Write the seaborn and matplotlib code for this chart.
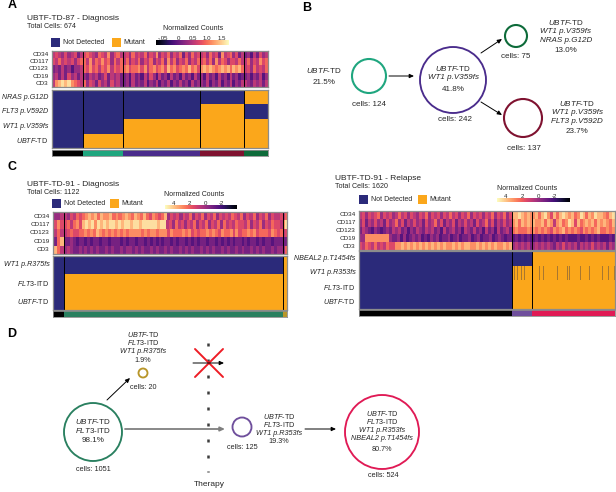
"""Single-cell clonal evolution figure: genotype heatmaps and clone diagrams."""

import matplotlib

matplotlib.use("Agg")
import matplotlib.pyplot as plt
import numpy as np
import pandas as pd
import seaborn as sns
from matplotlib.colors import ListedColormap
from matplotlib.patches import Circle, Rectangle

W, H = 616, 492

NAVY = "#2b2a7a"
ORANGE = "#fba71b"
STRIPE = "#a9772f"
TEXT = "#262626"
EDGE = "#8c8c8c"

UBTF = r"$\mathit{UBTF}$-TD"
FLT3 = r"$\mathit{FLT3}$-ITD"

markers = ["CD34", "CD117", "CD123", "CD19", "CD3"]

# panel A: clone sizes, genotype per clone, expression digits per clone (0 dark - 9 bright)
a_cells = [96, 124, 242, 137, 75]
a_genes = ["NRAS p.G12D", "FLT3 p.V592D", "WT1 p.V359fs", UBTF]
a_nras = [0, 0, 0, 0, 1]
a_flt3 = [0, 0, 0, 1, 0]
a_wt1 = [0, 0, 1, 1, 1]
a_ubtf = [0, 1, 1, 1, 1]
a_colors = ["#000000", "#1fa67f", "#4a2c8c", "#7f1230", "#0e6b3a"]
a_cd34 = ["4543534524", "5654365473564", "45364546354735463546253645", "453645274563524", "23142534"]
a_cd117 = ["5464545356", "6474657563646", "46354635463546374635463546", "564637465355464", "46354756"]
a_cd123 = ["2324231334", "6575646574656", "67566757467567586756768675", "787876787868786", "45364546"]
a_cd19 = ["3424253424", "3243423524342", "23142314253142314231423142", "314231423142312", "23132413"]
a_cd3 = ["4789897654", "6354253425342", "23142324132413241324231423", "324132413241324", "43243424"]
a_ticks = [-0.5, 0, 0.5, 1.0, 1.5]
a_ticklabels = ["-.05", "0", "0.5", "1.0", "1.5"]

# panel C, diagnosis
c_cells = [51, 1051, 20]
c_genes = ["WT1 p.R375fs", FLT3, UBTF]
c_wt1 = [0, 0, 1]
c_flt3 = [0, 1, 1]
c_ubtf = [0, 1, 1]
c_colors = ["#000000", "#2a8060", "#b8962a"]
c_cd34 = ["334", "435465678786877867678768768657656835453546354635463545465463546354635445", "46"]
c_cd117 = ["575", "5646758989798989989899899899999899453645354635463546364546554635463546554", "79"]
c_cd123 = ["464", "45655667676876767676767777676776777576667675656676765766757566767566657656", "45"]
c_cd19 = ["268", "22321221212212212221212212212121212212122121212212212121212212122121221222", "22"]
c_cd3 = ["864", "34322323232322323223233232322323223232232323223232322323223232232323223233", "36"]

# panel C, relapse
r_cells = [971, 125, 524]
r_genes = ["NBEAL2 p.T1454fs", "WT1 p.R353fs", FLT3, UBTF]
r_nbeal2 = [0, 0, 1]
r_wt1 = [0, 1, 1]
r_flt3 = [0, 1, 1]
r_ubtf = [0, 1, 1]
r_wt1_partial = [982, 997, 1022, 1043, 1138, 1166, 1250, 1314, 1331, 1398, 1457, 1535, 1578, 1612]
r_colors = ["#000000", "#6f4f9c", "#e01a55"]
r_cd34 = ["453545635453464535435463545354645354635453546354635", "8898787", "7868975868987867986879887689"]
r_cd117 = ["352435342534635243534253463524352435342534635243534", "7868787", "8778687478679858678786878768"]
r_cd123 = ["243213212324342313243243423142342314324231423142342", "6766676", "7676765767867676576767866767"]
r_cd19 = ["3377777777322313123231213231223123122312312231232122", "1212121", "1212121212121112112121211121"]
r_cd3 = ["546546454655778787878787878787787878877878787877878", "3434342", "3434343243534342434353434243"]

exp_ticks = [4, 2, 0, -2]

# clone diagrams: labels and cell counts
b_nodes = ["cells: 124", "cells: 242", "cells: 75", "cells: 137"]
d_nodes = ["cells: 1051", "cells: 20", "cells: 125", "cells: 524"]


def px_axes(fig, x0, y0, x1, y1):
    """Axes from pixel box, y measured from the top."""
    return fig.add_axes([x0 / W, 1 - y1 / H, (x1 - x0) / W, (y1 - y0) / H])


def expand(segments, cells):
    out = []
    for s, n in zip(segments, cells):
        idx = np.arange(n) * len(s) // n
        out.extend(int(s[i]) for i in idx)
    return out


def frame(ax, cuts):
    for s in ax.spines.values():
        s.set_visible(True)
        s.set_color(EDGE)
        s.set_linewidth(0.9)
    for c in cuts:
        ax.axvline(c, color="black", lw=0.7)


def panel(fig, boxes, cells, rows, genes, colors, vrange, cbar_box, ticks, ticklabels, flip, partial=None):
    x0, x1, ey0, ey1, gy0, gy1, by0, by1 = boxes
    cuts = np.cumsum(cells)[:-1]
    vmin, vmax = vrange

    # digits sit on the middle of the colour scale, the picture never reaches its ends
    frac = 0.18 + np.array([expand(r, cells) for r in rows], dtype=float) / 9 * 0.75
    expr = frac * (vmax - vmin) + vmin
    ax = px_axes(fig, x0, ey0, x1, ey1)
    cax = px_axes(fig, *cbar_box)
    sns.heatmap(
        pd.DataFrame(expr, index=markers),
        ax=ax,
        cmap="magma",
        vmin=vmin,
        vmax=vmax,
        xticklabels=False,
        yticklabels=markers,
        cbar_ax=cax,
        cbar_kws={"orientation": "horizontal"},
    )
    ax.tick_params(axis="y", length=1.5, width=0.4, pad=1, labelsize=4.6, labelcolor=TEXT, color=TEXT, rotation=0)
    frame(ax, cuts)

    cax.xaxis.set_ticks_position("top")
    cax.set_xticks(ticks)
    cax.set_xticklabels(ticklabels, fontsize=4.4, color=TEXT)
    cax.tick_params(axis="x", length=1.5, width=0.3, pad=-0.5, color="white", direction="in")
    cax.minorticks_off()
    if flip:
        cax.invert_xaxis()
    for s in cax.spines.values():
        s.set_visible(False)

    geno = np.array([np.repeat(g, cells) for g in genes.values()], dtype=int) * 2
    if partial is not None:
        row, spots = partial
        for c in spots:
            geno[row, c:c + 7] = 1
    ax = px_axes(fig, x0, gy0, x1, gy1)
    sns.heatmap(
        pd.DataFrame(geno),
        ax=ax,
        cmap=ListedColormap([NAVY, STRIPE, ORANGE]),
        vmin=0,
        vmax=2,
        cbar=False,
        xticklabels=False,
        yticklabels=list(genes),
    )
    labels = ax.set_yticklabels(list(genes), rotation=0, fontsize=5.1, color=TEXT)
    for lab in labels:
        if "$" not in lab.get_text():
            lab.set_style("italic")
    ax.tick_params(axis="y", length=1.5, width=0.4, pad=1, color=TEXT)
    frame(ax, cuts)

    ax = px_axes(fig, x0, by0, x1, by1)
    sns.heatmap(
        pd.DataFrame([np.repeat(np.arange(len(cells)), cells)]),
        ax=ax,
        cmap=ListedColormap(colors),
        cbar=False,
        xticklabels=False,
        yticklabels=False,
    )
    for s in ax.spines.values():
        s.set_visible(True)
        s.set_color(EDGE)
        s.set_linewidth(0.6)


def header(cv, x, y, title, total, leg_x, leg_y):
    cv.text(x, y, title, fontsize=6, va="center", color=TEXT)
    cv.text(x, y + 8, total, fontsize=5.1, va="center", color=TEXT)
    nx, ox = leg_x
    cv.add_patch(Rectangle((nx, leg_y), 9, 8.5, color=NAVY, lw=0))
    cv.text(nx + 12, leg_y + 4.5, "Not Detected", fontsize=5, va="center", color=TEXT)
    cv.add_patch(Rectangle((ox, leg_y), 9, 8.5, color=ORANGE, lw=0))
    cv.text(ox + 11.5, leg_y + 4.5, "Mutant", fontsize=5, va="center", color=TEXT)


def stack(cv, x, ys, labels, size=5):
    # baseline alignment so that math and plain lines share the same spacing
    for y, lab in zip(ys, labels):
        style = "italic" if "p." in lab else "normal"
        cv.text(x, y + 2.2, lab, fontsize=size, ha="center", va="baseline", style=style, color=TEXT)


def ring(cv, x, y, r, color, lw=1.35):
    cv.add_patch(Circle((x, y), r, fill=False, edgecolor=color, lw=lw))


def arrow(cv, start, end, color="black", lw=0.7):
    cv.annotate(
        "",
        xy=end,
        xytext=start,
        arrowprops=dict(arrowstyle="-|>,head_length=0.22,head_width=0.1", color=color, lw=lw, shrinkA=0, shrinkB=0),
    )


def main():
    sns.set_theme(style="white")
    plt.rcParams["font.family"] = ["Liberation Sans", "DejaVu Sans"]
    plt.rcParams["mathtext.fontset"] = "custom"
    plt.rcParams["mathtext.rm"] = "Liberation Sans"
    plt.rcParams["mathtext.it"] = "Liberation Sans:italic"
    plt.rcParams["mathtext.default"] = "regular"

    fig = plt.figure(figsize=(W / 100, H / 100), dpi=100)
    cv = fig.add_axes([0, 0, 1, 1])
    cv.set_xlim(0, W)
    cv.set_ylim(H, 0)
    cv.axis("off")

    panel(
        fig,
        (52, 268, 51, 87, 90, 148, 150, 156),
        a_cells,
        [a_cd34, a_cd117, a_cd123, a_cd19, a_cd3],
        dict(zip(a_genes, [a_nras, a_flt3, a_wt1, a_ubtf])),
        a_colors,
        (-0.75, 1.74),
        (156, 40, 229, 45),
        a_ticks,
        a_ticklabels,
        False,
    )
    panel(
        fig,
        (53, 287, 212, 254, 256, 310, 311, 317),
        c_cells,
        [c_cd34, c_cd117, c_cd123, c_cd19, c_cd3],
        dict(zip(c_genes, [c_wt1, c_flt3, c_ubtf])),
        c_colors,
        (-3.9, 5.1),
        (165, 205, 237, 209),
        exp_ticks,
        [str(t) for t in exp_ticks],
        True,
    )
    panel(
        fig,
        (359, 615, 211, 250, 251, 309, 310, 316),
        r_cells,
        [r_cd34, r_cd117, r_cd123, r_cd19, r_cd3],
        dict(zip(r_genes, [r_nbeal2, r_wt1, r_flt3, r_ubtf])),
        r_colors,
        (-3.9, 5.1),
        (497, 198, 570, 202),
        exp_ticks,
        [str(t) for t in exp_ticks],
        True,
        partial=(1, r_wt1_partial),
    )

    # headers and legends
    header(cv, 27, 19, "UBTF-TD-87 - Diagnosis", "Total Cells: 674", (51, 112), 38)
    header(cv, 27, 184, "UBTF-TD-91 - Diagnosis", "Total Cells: 1122", (52, 110), 199)
    header(cv, 335, 178, "UBTF-TD-91 - Relapse", "Total Cells: 1620", (359, 418), 195)
    for x, y in [(193, 28), (194, 195), (527, 188)]:
        cv.text(x, y, "Normalized Counts", fontsize=5, ha="center", va="center", color=TEXT)

    for lab, x, y in [("A", 12, 5), ("B", 307, 8), ("C", 12, 167), ("D", 12, 334)]:
        cv.text(x, y, lab, fontsize=9, fontweight="bold", ha="center", va="center", color="black")

    # panel B
    ring(cv, 369, 76, 17, "#1fa67f", lw=1.5)
    ring(cv, 453, 80, 33, "#4a2c8c")
    ring(cv, 516, 36, 11, "#0e6b3a", lw=1.5)
    ring(cv, 523, 118, 19, "#7f1230", lw=1.5)
    arrow(cv, (389, 76), (414, 76))
    arrow(cv, (481, 53), (502, 39))
    arrow(cv, (481, 102), (502, 115))
    stack(cv, 324, [71, 82], [UBTF, "21.5%"], size=5.8)
    stack(cv, 453, [69, 77, 89], [UBTF, "WT1 p.V359fs", "41.8%"], size=5.8)
    stack(cv, 566, [23, 31, 40, 50], [UBTF, "WT1 p.V359fs", "NRAS p.G12D", "13.0%"], size=5.8)
    stack(cv, 577, [104, 112, 121, 131], [UBTF, "WT1 p.V359fs", "FLT3 p.V592D", "23.7%"], size=5.8)
    for (x, y), lab in zip([(369, 104), (455, 119), (516, 56), (524, 148)], b_nodes):
        stack(cv, x, [y], [lab], size=5.8)

    # panel D
    ring(cv, 93, 432, 29, "#2a8060")
    ring(cv, 143, 373, 4.5, "#b8962a")
    ring(cv, 242, 427, 9.5, "#6f4f9c")
    ring(cv, 382, 432, 37, "#e01a55")
    arrow(cv, (107, 400), (130, 378))
    arrow(cv, (125, 429), (225, 429), color="#7f7f7f", lw=1.3)
    arrow(cv, (305, 429), (336, 429))
    arrow(cv, (193, 363), (224, 363))
    cv.plot([208, 208], [343, 472], color="#3c3c3c", lw=1.8, dashes=(1.2, 5.2))
    cv.plot([195, 223], [349, 377], color="#ee1c25", lw=1.4)
    cv.plot([195, 223], [377, 349], color="#ee1c25", lw=1.4)
    cv.text(209, 484, "Therapy", fontsize=6, ha="center", va="center", color=TEXT)
    stack(cv, 143, [335, 343, 351, 360], [UBTF, FLT3, "WT1 p.R375fs", "1.9%"], size=5.2)
    stack(cv, 93, [422, 431, 440], [UBTF, FLT3, "98.1%"], size=5.8)
    stack(cv, 279, [417, 425, 433, 441], [UBTF, FLT3, "WT1 p.R353fs", "19.3%"], size=5.2)
    stack(cv, 382, [414, 422, 430, 438, 449], [UBTF, FLT3, "WT1 p.R353fs", "NBEAL2 p.T1454fs", "80.7%"], size=5.2)
    for (x, y), lab in zip([(93, 469), (143, 387), (242, 447), (383, 475)], d_nodes):
        stack(cv, x, [y], [lab], size=5.2)

    fig.savefig("out.png", dpi=100)


main()
